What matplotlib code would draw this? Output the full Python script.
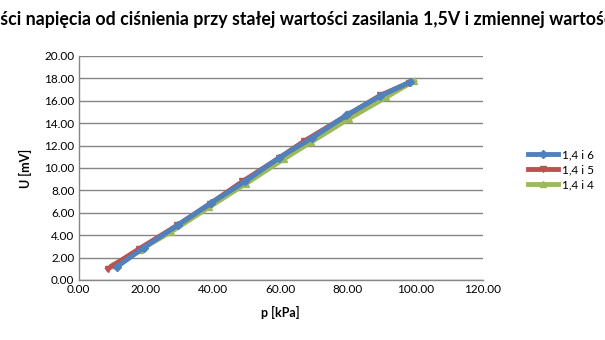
import matplotlib
matplotlib.use("Agg")
import matplotlib.pyplot as plt
from matplotlib.ticker import MultipleLocator, FormatStrFormatter

plt.rcParams['font.family'] = ['Lato', 'DejaVu Sans']

title = "Zależności napięcia od ciśnienia przy stałej wartości zasilania 1,5V i zmiennej wartości R"
title_hidden_prefix = "Zależno"

labels = ["1,4 i 6", "1,4 i 5", "1,4 i 4"]
colors = ["#4F81BD", "#C0504D", "#9BBB59"]
markers = ["D", "v", "^"]

p_blue = [11.5, 19.5, 29.5, 39.5, 49.5, 59.5, 69.5, 79.5, 89.5, 98.6]
u_blue = [1.2, 2.9, 4.9, 6.9, 8.8, 10.9, 12.7, 14.7, 16.4, 17.7]
p_red = [8.7, 18.1, 29.4, 39.0, 48.7, 59.6, 67.0, 80.3, 89.7, 98.1]
u_red = [1.0, 2.8, 4.9, 6.8, 8.8, 10.9, 12.4, 14.8, 16.5, 17.6]
p_green = [10.0, 18.3, 27.5, 38.8, 49.7, 61.0, 69.0, 80.3, 91.3, 99.8]
u_green = [1.3, 2.7, 4.3, 6.5, 8.6, 10.8, 12.3, 14.4, 16.3, 17.8]

W, H = 605, 340
fig = plt.figure(figsize=(W / 100, H / 100), dpi=100)
ax = fig.add_axes([78.5 / W, (H - 280) / H, (482.5 - 78.5) / W, (280 - 56) / H])

series = [(p_blue, u_blue), (p_red, u_red), (p_green, u_green)]
handles = [None] * 3
for i in [2, 1, 0]:
    p, u = series[i]
    (h,) = ax.plot(p, u, color=colors[i], lw=3.5, marker=markers[i],
                   ms=5 if i else 4.5, zorder=3 + (2 - i), label=labels[i])
    handles[i] = h

ax.set_xlim(0, 120)
ax.set_ylim(0, 20)
ax.xaxis.set_major_locator(MultipleLocator(20))
ax.yaxis.set_major_locator(MultipleLocator(2))
ax.xaxis.set_major_formatter(FormatStrFormatter('%.2f'))
ax.yaxis.set_major_formatter(FormatStrFormatter('%.2f'))
ax.tick_params(length=0, labelsize=8.5, colors='black', pad=3)
ax.grid(axis='y', color='#868686', lw=1.0)
ax.set_axisbelow(True)
for s in ['top', 'right']:
    ax.spines[s].set_visible(False)
for s in ['left', 'bottom']:
    ax.spines[s].set_color('#868686')
    ax.spines[s].set_linewidth(1.0)

ax.set_xlabel("p [kPa]", fontsize=9, fontweight='bold', labelpad=8)
ax.set_ylabel("U [mV]", fontsize=9, fontweight='bold', labelpad=9)

fig.legend(handles=handles, labels=labels, loc='center left',
           bbox_to_anchor=(517 / W, (H - 170) / H), frameon=False,
           fontsize=8.5, handlelength=2.6, labelspacing=0.35, handletextpad=0.3)

# Title clipped at the left edge like the reference
renderer = fig.canvas.get_renderer()
tmp = fig.text(0, 0, title_hidden_prefix, fontsize=12.8, fontweight='bold')
wpx = tmp.get_window_extent(renderer).width
tmp.remove()
fig.text(-wpx / W, (H - 20) / H, title, fontsize=12.8, fontweight='bold',
         ha='left', va='center')

fig.savefig("out.png", dpi=100)
